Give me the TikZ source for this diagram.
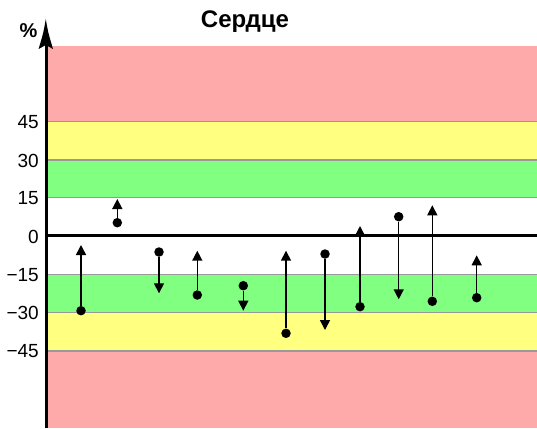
\documentclass[tikz,border=0pt]{standalone}
\usepackage{fontspec}
\setmainfont{Liberation Sans}
\usetikzlibrary{arrows.meta}
\definecolor{bpink}{HTML}{FFAAAA}
\definecolor{byellow}{HTML}{FFFF80}
\definecolor{bgreen}{HTML}{80FF80}
\definecolor{bline}{HTML}{999999}
\tikzset{
  bandline/.style={draw=bline, line width=1.2pt},
  dot/.style={circle, fill=black, inner sep=0pt, minimum size=9.5pt},
  change/.style={draw=black, line width=1.5pt, -{Triangle[length=10pt,width=10pt]}},
  ticklabel/.style={anchor=east, font=\fontsize{19}{19}\selectfont, inner sep=0pt},
}
\begin{document}
\begin{tikzpicture}[x=1pt,y=-1pt]
\useasboundingbox (0,0) rectangle (537,428);
% bands
\fill[bpink]   (47,46)    rectangle (537,121.7);
\fill[byellow] (47,121.7) rectangle (537,160);
\fill[bgreen]  (47,160)   rectangle (537,197.7);
\fill[bgreen]  (47,274.7) rectangle (537,312.7);
\fill[byellow] (47,312.7) rectangle (537,351);
\fill[bpink]   (47,351)   rectangle (537,428);
\foreach \yy in {121.7,160,197.7,274.7,312.7,351}
  \draw[bandline] (47,\yy) -- (537,\yy);
% zero line
\coordinate (z0) at (46,235.7);
\coordinate (z1) at (537,235.7);
\draw[line width=3pt] (z0) -- (z1);
% axis
\coordinate (ab) at (46,428);
\coordinate (at) at (46,44);
\draw[line width=3pt] (ab) -- (at);
\fill (45.8,19) .. controls (48,32) .. (53,49) -- (45.8,45) -- (38.6,49) .. controls (43.6,32) .. (45.8,19) -- cycle;
% labels
\node[font=\bfseries\fontsize{20}{20}\selectfont, inner sep=0pt] (pct) at (28.5,31) {\%};
\node[font=\bfseries\fontsize{24}{24}\selectfont, inner sep=0pt] (title) at (245,22) {Сердце};
\node[ticklabel] (l45) at (39,122.5) {45};
\node[ticklabel] (l30) at (39,160.5) {30};
\node[ticklabel] (l15) at (39,198.5) {15};
\node[ticklabel] (l0) at (39,236.5) {0};
\node[ticklabel] (lm15) at (39,274.7) {−15};
\node[ticklabel] (lm30) at (39,312.7) {−30};
\node[ticklabel] (lm45) at (39,351) {−45};
% data
\foreach \i/\xx/\ya/\yb in {1/81/310.7/245, 2/117.3/222.7/199, 3/159/252/293.3, 4/197.3/295/250.7, 5/243.3/285.7/310.7, 6/286/333.3/250.7, 7/325/254/330, 8/360/306.7/226, 9/398.7/216.7/299.3, 10/432.3/301.3/205.3, 11/476.7/297.7/255.3} {
  \node[dot] (d\i) at (\xx,\ya) {};
  \coordinate (t\i) at (\xx,\yb);
  \draw[change] (d\i) -- (t\i);
}
\end{tikzpicture}
\end{document}
